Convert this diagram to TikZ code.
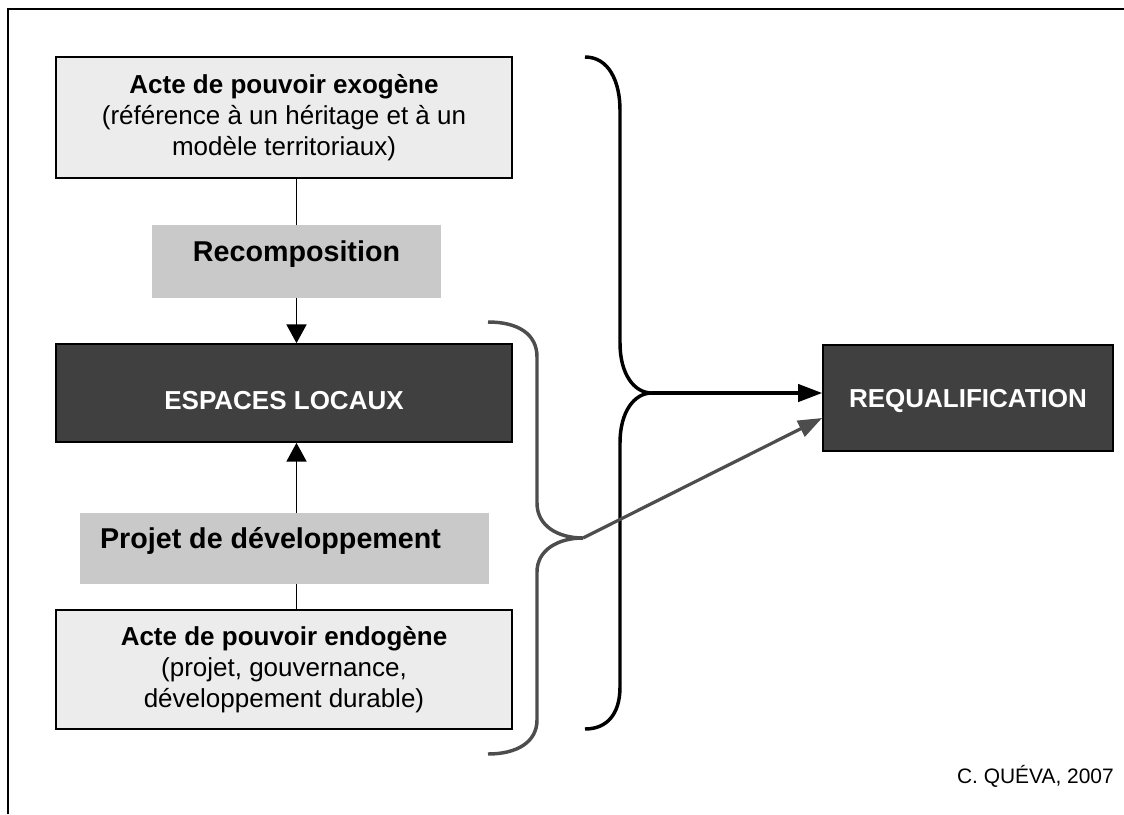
\documentclass[tikz,border=0pt]{standalone}
\usepackage{fontspec}
\setmainfont{Liberation Sans}
\usetikzlibrary{arrows.meta}
\definecolor{lightbox}{HTML}{ECECEC}
\definecolor{midbox}{HTML}{C9C9C9}
\definecolor{darkbox}{HTML}{404040}
\definecolor{graybr}{HTML}{4D4D4D}
\tikzset{
  lightnode/.style={draw=black, line width=1.3pt, fill=lightbox, inner sep=0pt, align=center,
    minimum width=342pt, font=\fontsize{19.5}{23}\selectfont},
  midnode/.style={fill=midbox, inner sep=0pt, font=\bfseries\fontsize{21.5}{25}\selectfont},
  darknode/.style={draw=black, line width=1.3pt, fill=darkbox, text=white, inner sep=0pt,
    font=\bfseries\fontsize{19.5}{23}\selectfont},
  conn/.style={line width=1.1pt, black},
  varrow/.style={conn, -{Triangle[length=14pt,width=15pt]}},
  brace/.style={line width=2.6pt, line cap=butt},
  bigarrow/.style={line width=2.4pt, -{Triangle[length=18pt,width=13pt]}},
}
\begin{document}
\begin{tikzpicture}[x=0.75pt,y=-0.75pt]
\useasboundingbox (0,0) rectangle (1124,814);
% frame
\draw[line width=1.5pt] (8,814) -- (8,9) -- (1124,9);

\node[lightnode, minimum height=90.75pt] (exo) at (284,117.5)
  {\raisebox{3pt}{\parbox{330pt}{\centering\textbf{Acte de pouvoir exogène}\\(référence à un héritage et à un\\modèle territoriaux)}}};
\node[midnode, minimum width=216.75pt, minimum height=54.75pt] (rec) at (296.5,261.5)
  {\raisebox{0pt}[0pt][0pt]{Recomposition}};
\node[darknode, minimum width=342pt, minimum height=73.5pt] (esp) at (284,393)
  {\raisebox{-12.5pt}[0pt][0pt]{ESPACES LOCAUX}};
\node[midnode, minimum width=306.75pt, minimum height=53.25pt] (proj) at (284.5,548.5)
  {\raisebox{0pt}[0pt][0pt]{Projet de développement}\hspace*{21pt}};
\node[lightnode, minimum height=89.25pt] (endo) at (284,669.5)
  {\parbox{330pt}{\centering\textbf{Acte de pouvoir endogène}\\(projet, gouvernance,\\développement durable)}};
\node[darknode, minimum width=217.5pt, minimum height=79.5pt] (req) at (968,398)
  {\raisebox{-6.75pt}[0pt][0pt]{REQUALIFICATION}};
\node[anchor=base east, font=\fontsize{15.7}{18}\selectfont, inner sep=0pt] (auth) at (1114,783)
  {C. QUÉVA, 2007};

% vertical connectors
\draw[conn] (rec.north |- exo.south) -- (rec.north);
\draw[varrow] (rec.south) -- (rec.south |- esp.north);
\draw[varrow] (rec.south |- proj.north) -- (rec.south |- esp.south);
\draw[conn] (rec.south |- endo.north) -- (rec.south |- proj.south);

% black brace
\coordinate (btip) at (652,393);
\draw[brace, black] (585,57) .. controls (609,57) and (620,82) .. (620,110)
  -- (620,343) .. controls (620,374) and (634,393) .. (btip)
  .. controls (634,393) and (620,412) .. (620,443)
  -- (620,687) .. controls (620,714) and (607,729) .. (585,729);
\draw[bigarrow, black] (btip) -- (btip -| req.west);

% gray brace
\coordinate (gtip) at (583,538);
\draw[brace, graybr] (488,322) .. controls (518,322) and (537,334) .. (537,357)
  -- (537,503) .. controls (537,526) and (558,538) .. (gtip)
  .. controls (558,538) and (537,550) .. (537,572)
  -- (537,720) .. controls (537,742) and (517,754) .. (488,754);
\draw[bigarrow, graybr] (gtip) -- ([yshift=-15pt]req.west);
\end{tikzpicture}
\end{document}
